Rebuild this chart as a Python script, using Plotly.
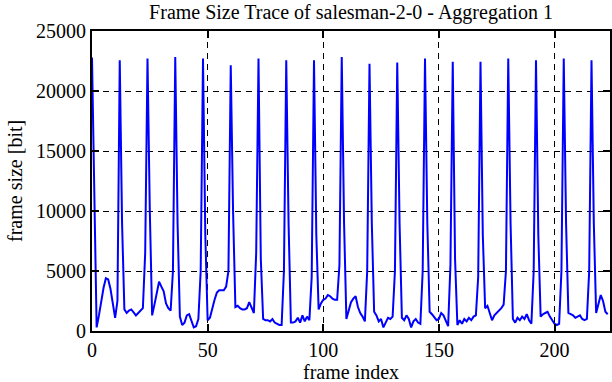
import plotly.graph_objects as go

# Frame sizes in bits, one list per 12-frame GOP (I-frame first)
gop_00 = [22800, 12000, 300, 1300, 2500, 3600, 4400, 4300, 3500, 2300, 1100, 2500]
gop_01 = [22560, 9000, 1800, 1500, 1700, 1800, 1500, 1300, 1500, 1700, 1900, 6500]
gop_02 = [22700, 10000, 1300, 2200, 3300, 4100, 3700, 3300, 2300, 1900, 1700, 5000]
gop_03 = [22830, 9000, 1200, 500, 700, 1300, 1400, 900, 300, 400, 1000, 5000]
gop_04 = [22700, 8000, 900, 1100, 1900, 2600, 3200, 3400, 3400, 3400, 3700, 5000]
gop_05 = [22140, 10000, 2000, 2100, 1900, 1800, 1800, 1900, 2400, 1900, 1500, 6500]
gop_06 = [22700, 6000, 1000, 900, 900, 800, 1000, 700, 600, 500, 500, 5000]
gop_07 = [22560, 9000, 700, 700, 800, 1100, 700, 1300, 800, 1200, 900, 4500]
gop_08 = [22560, 8000, 1800, 2300, 2600, 2700, 3000, 2900, 2700, 2600, 2600, 5500]
gop_09 = [22830, 9000, 1000, 1800, 2400, 2700, 2900, 2000, 1500, 1200, 800, 5000]
gop_10 = [22280, 9000, 1600, 1300, 800, 1000, 300, 700, 1100, 1000, 1200, 5000]
gop_11 = [22380, 9000, 1100, 900, 1300, 1000, 300, 800, 1000, 700, 600, 5000]
gop_12 = [22700, 9000, 1600, 1400, 1100, 900, 1000, 1500, 1300, 800, 400, 5500]
gop_13 = [22440, 6000, 500, 900, 600, 1000, 800, 1100, 900, 1200, 1300, 4500]
gop_14 = [22440, 8000, 1900, 2100, 1500, 900, 1300, 1500, 1700, 1900, 2200, 5000]
gop_15 = [22700, 9000, 1000, 700, 1100, 900, 1200, 1000, 1400, 900, 600, 5000]
gop_16 = [22560, 8000, 1200, 1400, 1500, 1600, 1200, 900, 600, 500, 600, 5000]
gop_17 = [22700, 9000, 1500, 1400, 1300, 1100, 1200, 1300, 1000, 900, 1000, 5000]
gop_18 = [22560, 9000, 1500, 2300, 3000, 2500, 1600, 1400]

gops = [gop_00, gop_01, gop_02, gop_03, gop_04, gop_05, gop_06, gop_07, gop_08,
        gop_09, gop_10, gop_11, gop_12, gop_13, gop_14, gop_15, gop_16, gop_17, gop_18]
frame_size = [v for g in gops for v in g]
frame_index = list(range(len(frame_size)))

x_ticks = [0, 50, 100, 150, 200]
y_ticks = [0, 5000, 10000, 15000, 20000, 25000]

FONT = "Liberation Serif"

W, H = 612, 382
ML, MR, MT, MB = 92, 2, 31, 51
plot_w = W - ML - MR
plot_h = H - MT - MB

fig = go.Figure()
fig.add_trace(go.Scatter(x=frame_index, y=frame_size, mode="lines",
                         line=dict(color="#0000ff", width=2), showlegend=False))

axis_common = dict(showline=True, linewidth=2, linecolor="black", mirror="allticks",
                   ticks="inside", ticklen=7, tickwidth=1.5, tickcolor="black",
                   showgrid=True, gridcolor="black", gridwidth=1, griddash="6px,5px",
                   zeroline=False, automargin=False,
                   tickfont=dict(family=FONT, size=20, color="black"))

fig.update_xaxes(range=[0, 224], tickvals=x_ticks, ticktext=[str(t) for t in x_ticks],
                 **axis_common)
fig.update_yaxes(range=[0, 25000], tickvals=y_ticks, ticktext=[str(t) for t in y_ticks],
                 **axis_common)

fig.update_layout(
    width=W, height=H,
    margin=dict(l=ML, r=MR, t=MT, b=MB, autoexpand=False),
    paper_bgcolor="white", plot_bgcolor="white",
    font=dict(family=FONT, size=20, color="black"),
    title=dict(text="Frame Size Trace of salesman-2-0 - Aggregation 1",
               x=0.5, xref="paper", y=1 - 12 / H, yref="container", yanchor="middle",
               xanchor="center", automargin=False,
               font=dict(family=FONT, size=20, color="black")),
    annotations=[
        dict(text="frame index", x=0.5, xref="paper",
             y=-(372 - (H - MB)) / plot_h, yref="paper", yanchor="middle",
             showarrow=False, font=dict(family=FONT, size=20, color="black")),
        dict(text="frame size [bit]", x=-(ML - 15) / plot_w, xref="paper", xanchor="center",
             y=0.5, yref="paper", textangle=-90, showarrow=False,
             font=dict(family=FONT, size=20, color="black")),
    ],
)

fig.write_html("out.html", config={"displayModeBar": False},
               post_script="document.body.style.margin='0';document.body.style.padding='0';")
